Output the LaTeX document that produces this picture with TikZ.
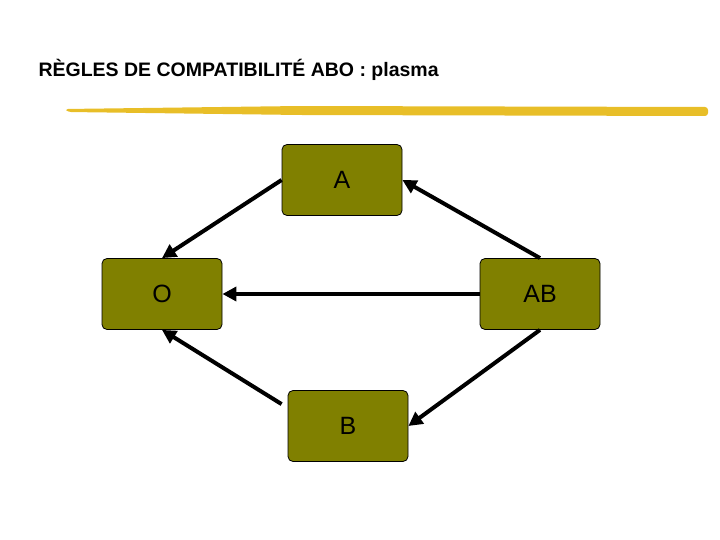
\documentclass[tikz,border=0pt]{standalone}
\usepackage{fontspec}
\setmainfont{Liberation Sans}
\usetikzlibrary{arrows.meta}
\definecolor{olivebox}{RGB}{128,128,0}
\definecolor{goldband}{RGB}{232,190,40}
\begin{document}
\begin{tikzpicture}[x=1pt,y=-1pt,
  box/.style={draw=black,line width=0.8pt,fill=olivebox,rounded corners=5pt,minimum width=120pt,minimum height=71pt,font=\fontsize{25}{27}\selectfont},
  arr/.style={line width=4pt,-{Triangle[length=14pt,width=14pt]}}]
\useasboundingbox (0,0) rectangle (720,540);
\node[anchor=west,font=\bfseries\fontsize{19.5}{22}\selectfont] (t) at (35,70) {RÈGLES DE COMPATIBILITÉ ABO : plasma};
\fill[goldband,rounded corners=3pt] (65,109) -- (300,106) -- (708,107) -- (708,116) -- (300,115) -- (68,112) -- cycle;
\node[box] (a) at (342,180) {A};
\node[box] (o) at (162,294) {O};
\node[box] (ab) at (540,294) {AB};
\node[box] (b) at (348,426) {B};
\draw[arr] (a.west) -- (o.north);
\draw[arr] (ab.north) -- (a.east);
\draw[arr] (ab.west) -- (o.east);
\draw[arr] (ab.south) -- (b.east);
\draw[arr] ([xshift=-6pt,yshift=-14pt]b.north west) -- (o.south);
\end{tikzpicture}
\end{document}
